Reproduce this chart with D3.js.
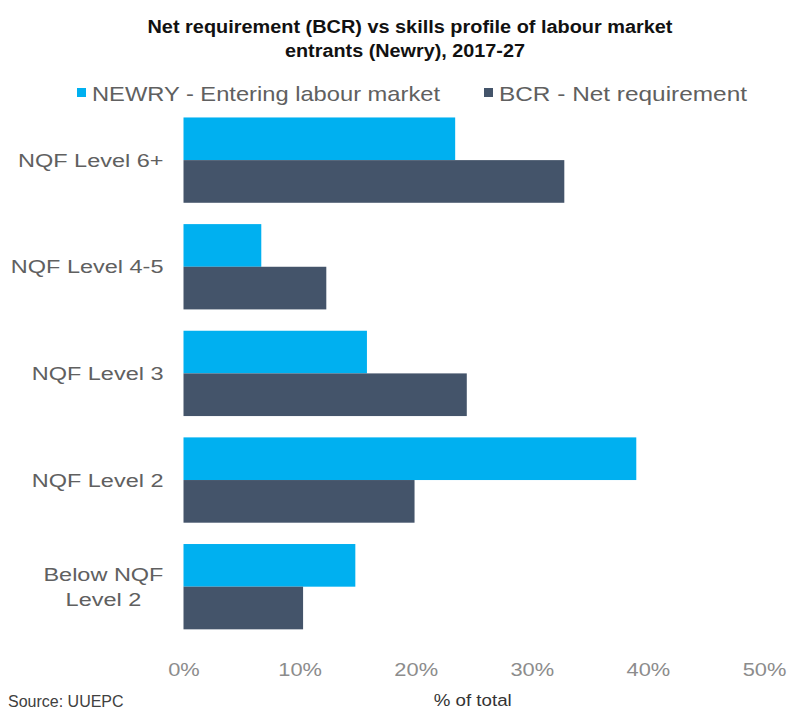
<!DOCTYPE html>
<html>
<head>
<meta charset="utf-8">
<script src="https://cdn.jsdelivr.net/npm/d3@7"></script>
<style>
  html, body { margin: 0; padding: 0; background: #ffffff; }
  svg { display: block; }
  text { font-family: "Liberation Sans", Arial, sans-serif; }
</style>
</head>
<body>
<svg id="chart" width="791" height="709"></svg>
<script>
// Skill levels, top to bottom
const categories = ["NQF Level 6+", "NQF Level 4-5", "NQF Level 3", "NQF Level 2", "Below NQF Level 2"];
// Share of labour market entrants in Newry (%)
const newryEntering = [23.4, 6.7, 15.8, 39.0, 14.8];
// Net requirement, BCR (%)
const bcrRequirement = [32.8, 12.3, 24.4, 19.9, 10.3];
const seriesNames = ["NEWRY - Entering labour market", "BCR - Net requirement"];
const seriesColors = ["#00B0F0", "#44546A"];
const xTicks = [0, 10, 20, 30, 40, 50];
const titleLines = ["Net requirement (BCR) vs skills profile of labour market", "entrants (Newry), 2017-27"];
const xAxisTitle = "% of total";
const sourceNote = "Source: UUEPC";

const svg = d3.select("#chart");

const x = d3.scaleLinear().domain([0, 50]).range([183.5, 764]);
const y = d3.scaleBand().domain(categories).range([106.8, 640]).paddingInner(0.2).paddingOuter(0.1);
const ySub = d3.scaleBand().domain(seriesNames).range([0, y.bandwidth()]);

const rows = categories.map((c, i) => ({ cat: c, values: [newryEntering[i], bcrRequirement[i]] }));

// Bars
const groups = svg.append("g").selectAll("g").data(rows).join("g")
  .attr("transform", d => `translate(0,${y(d.cat)})`);
groups.selectAll("rect")
  .data(d => d.values.map((v, j) => ({ v, s: seriesNames[j], c: seriesColors[j] })))
  .join("rect")
  .attr("x", x(0))
  .attr("y", d => ySub(d.s))
  .attr("height", ySub.bandwidth())
  .attr("width", d => x(d.v) - x(0))
  .attr("fill", d => d.c);

// Stretch text horizontally about its anchor point
function stretch(sel, k) {
  sel.each(function () {
    const t = d3.select(this);
    const tx = +t.attr("x") || 0, ty = +t.attr("y") || 0;
    t.attr("transform", `translate(${tx},${ty}) scale(${k},1) translate(${-tx},${-ty})`);
  });
}

// Category labels
const labelRight = x(0) - 20;
rows.forEach(r => {
  const cy = y(r.cat) + y.bandwidth() / 2;
  const words = r.cat.split(" ");
  const lines = r.cat.length > 14 ? [words.slice(0, 2).join(" "), words.slice(2).join(" ")] : [r.cat];
  const k = 1.27;
  const g = svg.append("g");
  const texts = g.selectAll("text").data(lines).join("text")
    .attr("font-size", 18.5)
    .attr("fill", "#606060")
    .text(d => d);
  if (lines.length === 1) {
    texts.attr("x", labelRight).attr("y", cy + 6.5).attr("text-anchor", "end");
  } else {
    const maxW = d3.max(texts.nodes(), n => n.getComputedTextLength()) * k;
    const mid = labelRight - maxW / 2;
    texts.attr("x", mid).attr("text-anchor", "middle")
      .attr("y", (d, i) => cy + 6.5 + (i - (lines.length - 1) / 2) * 25);
  }
  stretch(texts, k);
});

// X axis tick labels (no axis line)
const xAxis = d3.axisBottom(x).tickValues(xTicks).tickFormat(d => d + "%").tickSize(0).tickPadding(0);
const axG = svg.append("g").attr("transform", "translate(0,676)").call(xAxis);
axG.select(".domain").remove();
axG.selectAll("text")
  .attr("font-family", "\"Liberation Sans\", Arial, sans-serif")
  .attr("font-size", 19)
  .attr("fill", "#8c8c8c")
  .attr("dy", 0)
  .attr("y", 0)
  .attr("x", 0);
stretch(axG.selectAll("text"), 1.15);

// X axis title
const xt = svg.append("text")
  .attr("x", (x(0) + x(50)) / 2 - 1).attr("y", 706)
  .attr("text-anchor", "middle").attr("font-size", 17).attr("fill", "#333333")
  .text(xAxisTitle);
stretch(xt, 1.1);

// Source note along the bottom edge
svg.append("text").attr("x", 8).attr("y", 707).attr("font-size", 16).attr("fill", "#404040").text(sourceNote);

// Title
const titleX = [410, 405];
const titleW = [525, 240];
svg.selectAll(".title").data(titleLines).join("text")
  .attr("class", "title")
  .attr("x", (d, i) => titleX[i]).attr("y", (d, i) => 33 + i * 24)
  .attr("text-anchor", "middle")
  .attr("font-weight", "bold")
  .attr("font-size", 17.5)
  .attr("fill", "#111111")
  .attr("textLength", (d, i) => titleW[i])
  .attr("lengthAdjust", "spacingAndGlyphs")
  .text(d => d);

// Legend
const legendItems = [
  { name: seriesNames[0], color: seriesColors[0], x: 77, w: 348 },
  { name: seriesNames[1], color: seriesColors[1], x: 484, w: 248 }
];
legendItems.forEach(it => {
  svg.append("rect").attr("x", it.x).attr("y", 88).attr("width", 9).attr("height", 9).attr("fill", it.color);
  svg.append("text").attr("x", it.x + 15).attr("y", 100.5)
    .attr("font-size", 21).attr("fill", "#606060")
    .attr("textLength", it.w).attr("lengthAdjust", "spacingAndGlyphs")
    .text(it.name);
});
</script>
</body>
</html>
